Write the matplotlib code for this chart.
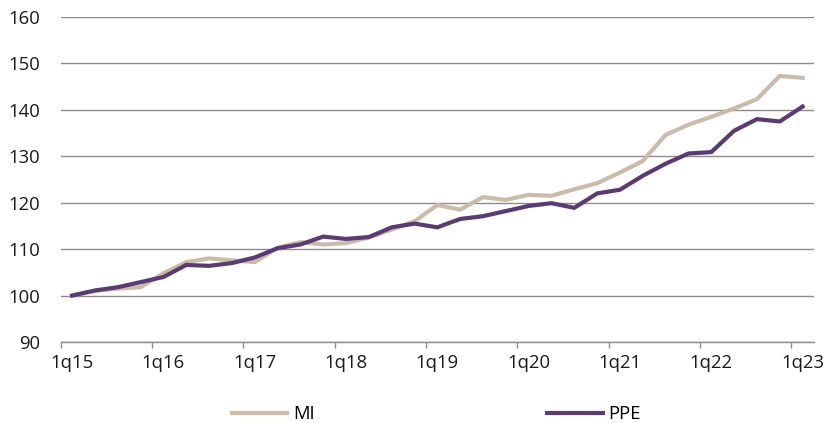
import numpy as np
from matplotlib import pyplot as plt
from matplotlib.ticker import FixedLocator

# Quarterly index, 1q15 = 100
quarters = [f'{q}q{y}' for y in range(15, 23) for q in range(1, 5)] + ['1q23']
mi = [100.0, 101.0, 101.5, 101.8, 104.8, 107.2, 108.0, 107.6,
      107.2, 110.3, 111.5, 111.0, 111.3, 112.5, 114.2, 116.0,
      119.5, 118.5, 121.2, 120.6, 121.7, 121.5, 122.9, 124.2,
      126.5, 129.0, 134.6, 136.8, 138.5, 140.3, 142.3, 147.3, 146.9]
ppe = [100.0, 101.1, 101.8, 102.9, 104.0, 106.6, 106.4, 107.0,
       108.2, 110.2, 111.0, 112.7, 112.2, 112.6, 114.7, 115.5,
       114.7, 116.5, 117.1, 118.2, 119.3, 119.9, 118.9, 122.0,
       122.8, 125.8, 128.4, 130.6, 130.9, 135.5, 138.0, 137.5, 140.7]

plt.rcParams['font.family'] = ['Open Sans', 'DejaVu Sans']
fs = 13.3

fig = plt.figure(figsize=(8.28, 4.23), dpi=100)
ax = fig.add_axes([60.7 / 828, 1 - 342 / 423, (814 - 60.7) / 828, (342 - 17) / 423])

x = np.arange(len(quarters))
ax.plot(x, mi, color='#CBBBA9', linewidth=3, label='MI', solid_joinstyle='miter')
ax.plot(x, ppe, color='#5C3B72', linewidth=3, label='PPE', solid_joinstyle='miter')

ax.set_ylim(90, 160)
ax.set_xlim(-0.5, 32.5)
ax.set_yticks(np.arange(90, 161, 10))
ax.yaxis.grid(True, color='#8C8C8C', linewidth=1)
ax.set_axisbelow(True)

# labels at every first quarter, tick marks between years
ax.set_xticks(x[::4])
ax.set_xticklabels(quarters[::4])
ax.xaxis.set_minor_locator(FixedLocator(np.arange(-0.5, 32, 4)))
ax.tick_params(axis='x', which='major', length=0, pad=9, labelsize=fs, colors='#1a1a1a')
ax.tick_params(axis='x', which='minor', length=4, width=1, color='#8C8C8C')
ax.tick_params(axis='y', length=0, pad=14.5, labelsize=fs, colors='#1a1a1a')

for side in ['top', 'right', 'left']:
    ax.spines[side].set_visible(False)
ax.spines['bottom'].set_color('#8C8C8C')
ax.spines['bottom'].set_linewidth(1)

fig.legend(loc='lower center', bbox_to_anchor=(0.527, -0.04), ncol=2, frameon=False,
           fontsize=fs, handlelength=3.0, columnspacing=12.6, handletextpad=0.3)

fig.savefig('out.png', dpi=100)
